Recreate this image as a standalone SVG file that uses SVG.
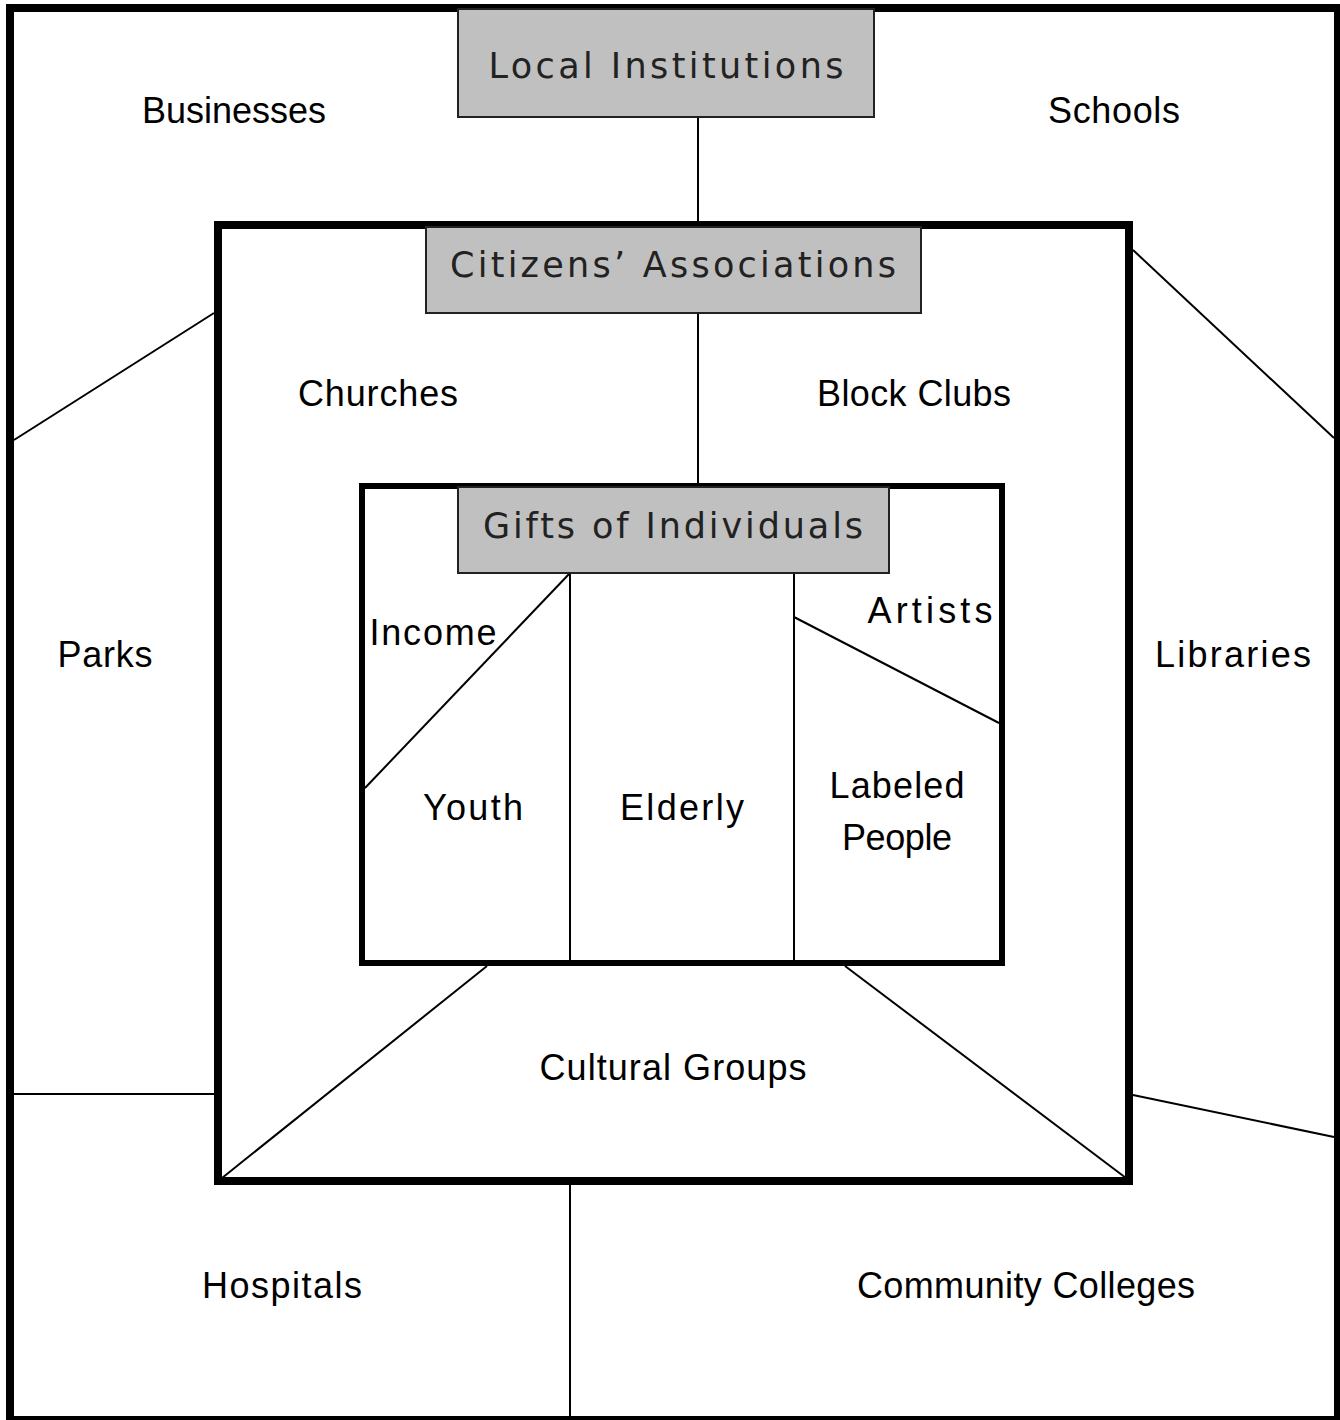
<svg xmlns="http://www.w3.org/2000/svg" width="1340" height="1420" viewBox="0 0 1340 1420">
<style>
.frame{fill:none;stroke:#000;stroke-width:8}
.inner{fill:none;stroke:#000;stroke-width:6}
.ln{stroke:#000;stroke-width:2;fill:none}
.box{fill:#c0c0c0;stroke:#222;stroke-width:2}
.bt{font-family:"DejaVu Sans","Liberation Sans",sans-serif;font-size:35px;fill:#222;text-anchor:middle}
.lb{font-family:"Comic Sans MS","Liberation Sans",sans-serif;font-size:36px;fill:#000;text-anchor:middle}
</style>
<rect x="0" y="0" width="1340" height="1420" fill="#fff"/>
<g id="regions">
<rect id="outer" class="frame" x="10" y="8" width="1328" height="1412"/>
<rect id="middle" class="frame" x="218" y="225" width="911" height="956"/>
<rect id="innerbox" class="inner" x="362" y="486" width="640" height="477"/>
</g>
<g id="connectors">
<line class="ln" x1="698" y1="117" x2="698" y2="221"/>
<line class="ln" x1="698" y1="313" x2="698" y2="483"/>
<line class="ln" x1="14" y1="440" x2="214" y2="313"/>
<line class="ln" x1="14" y1="1094" x2="214" y2="1094"/>
<line class="ln" x1="1133" y1="250" x2="1334" y2="438"/>
<line class="ln" x1="1133" y1="1095" x2="1334" y2="1137"/>
<line class="ln" x1="570" y1="1185" x2="570" y2="1416"/>
<line class="ln" x1="570" y1="573" x2="570" y2="960"/>
<line class="ln" x1="794" y1="573" x2="794" y2="960"/>
<line class="ln" x1="570" y1="573" x2="365" y2="788"/>
<line class="ln" x1="794" y1="617" x2="999" y2="723"/>
<line class="ln" x1="487" y1="966" x2="222" y2="1178"/>
<line class="ln" x1="845" y1="966" x2="1126" y2="1178"/>
</g>
<g id="local-institutions">
<rect class="box" x="458" y="9" width="416" height="108"/>
<text class="bt" x="666" y="78" textLength="355">Local Institutions</text>
</g>
<g id="citizens-associations">
<rect class="box" x="426" y="227" width="495" height="86"/>
<text class="bt" x="673" y="277" textLength="446">Citizens’ Associations</text>
</g>
<g id="gifts-of-individuals">
<rect class="box" x="458" y="487" width="431" height="86"/>
<text class="bt" x="673" y="538" textLength="380">Gifts of Individuals</text>
</g>
<g id="businesses"><text class="lb" x="234" y="123" textLength="184">Businesses</text></g>
<g id="schools"><text class="lb" x="1114" y="123" textLength="132">Schools</text></g>
<g id="churches"><text class="lb" x="378" y="406" textLength="160">Churches</text></g>
<g id="block-clubs"><text class="lb" x="914" y="406" textLength="194">Block Clubs</text></g>
<g id="parks"><text class="lb" x="105" y="667" textLength="95">Parks</text></g>
<g id="libraries"><text class="lb" x="1233" y="667" textLength="156">Libraries</text></g>
<g id="income"><text class="lb" x="433" y="645" textLength="127">Income</text></g>
<g id="artists"><text class="lb" x="930" y="623" textLength="125">Artists</text></g>
<g id="youth"><text class="lb" x="473" y="820" textLength="100">Youth</text></g>
<g id="elderly"><text class="lb" x="682" y="820" textLength="124">Elderly</text></g>
<g id="labeled-people"><text class="lb" x="897" y="798" textLength="135">Labeled</text><text class="lb" x="897" y="850" textLength="110">People</text></g>
<g id="cultural-groups"><text class="lb" x="673" y="1080" textLength="267">Cultural Groups</text></g>
<g id="hospitals"><text class="lb" x="282" y="1298" textLength="160">Hospitals</text></g>
<g id="community-colleges"><text class="lb" x="1026" y="1298" textLength="338">Community Colleges</text></g>
</svg>
